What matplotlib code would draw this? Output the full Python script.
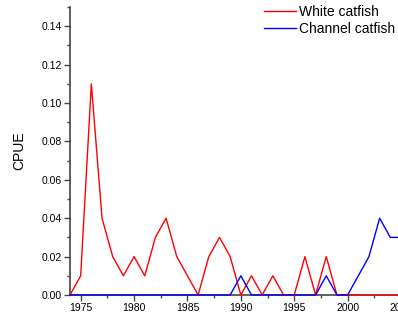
import matplotlib
matplotlib.use("Agg")
import matplotlib.pyplot as plt
from matplotlib.ticker import MultipleLocator

plt.rcParams['font.family'] = ['Liberation Sans', 'DejaVu Sans']

# CPUE by year
years = list(range(1974, 2006))
white_catfish = [0.00, 0.01, 0.11, 0.04, 0.02, 0.01, 0.02, 0.01, 0.03, 0.04,
                 0.02, 0.01, 0.00, 0.02, 0.03, 0.02, 0.00, 0.01, 0.00, 0.01,
                 0.00, 0.00, 0.02, 0.00, 0.02, 0.00, 0.00, 0.00, 0.00, 0.00,
                 0.00, 0.00]
channel_catfish = [0.00, 0.00, 0.00, 0.00, 0.00, 0.00, 0.00, 0.00, 0.00, 0.00,
                   0.00, 0.00, 0.00, 0.00, 0.00, 0.00, 0.01, 0.00, 0.00, 0.00,
                   0.00, 0.00, 0.00, 0.00, 0.01, 0.00, 0.00, 0.01, 0.02, 0.04,
                   0.03, 0.03]

fig = plt.figure(figsize=(3.98, 3.18), dpi=100)
ax = fig.add_axes([70 / 398, 23 / 318, 331 / 398, 288 / 318])

# lines sit on top of the axis spines, blue over red
ax.plot(years, white_catfish, color='red', lw=1.0, label='White catfish',
        zorder=3, clip_on=False)
ax.plot(years, channel_catfish, color='blue', lw=1.0, label='Channel catfish',
        zorder=4, clip_on=False)

ax.set_xlim(1974, 2005)
ax.set_ylim(0, 0.15)
ax.xaxis.set_major_locator(MultipleLocator(5))
ax.xaxis.set_minor_locator(MultipleLocator(2.5))
ax.yaxis.set_major_locator(MultipleLocator(0.02))
ax.yaxis.set_minor_locator(MultipleLocator(0.01))
ax.yaxis.set_major_formatter(plt.FuncFormatter(lambda v, p: f"{v:.2f}"))

for s in ['top', 'right']:
    ax.spines[s].set_visible(False)
for s in ['left', 'bottom']:
    ax.spines[s].set_color('#444444')
    ax.spines[s].set_linewidth(1.2)
ax.tick_params(which='major', direction='out', length=4, width=1.0,
               color='#444444', labelsize=7.5, pad=2)
ax.tick_params(which='minor', direction='out', length=2.5, width=1.0,
               color='#444444')

ax.set_ylabel('CPUE', fontsize=10, labelpad=11)

fig.legend(loc='upper left', bbox_to_anchor=(264 / 398, 1 - 5 / 318),
           frameon=False, fontsize=10, handlelength=2.3, handletextpad=0.25,
           labelspacing=0.2, borderpad=0, borderaxespad=0)

fig.savefig('out.png', dpi=100)
